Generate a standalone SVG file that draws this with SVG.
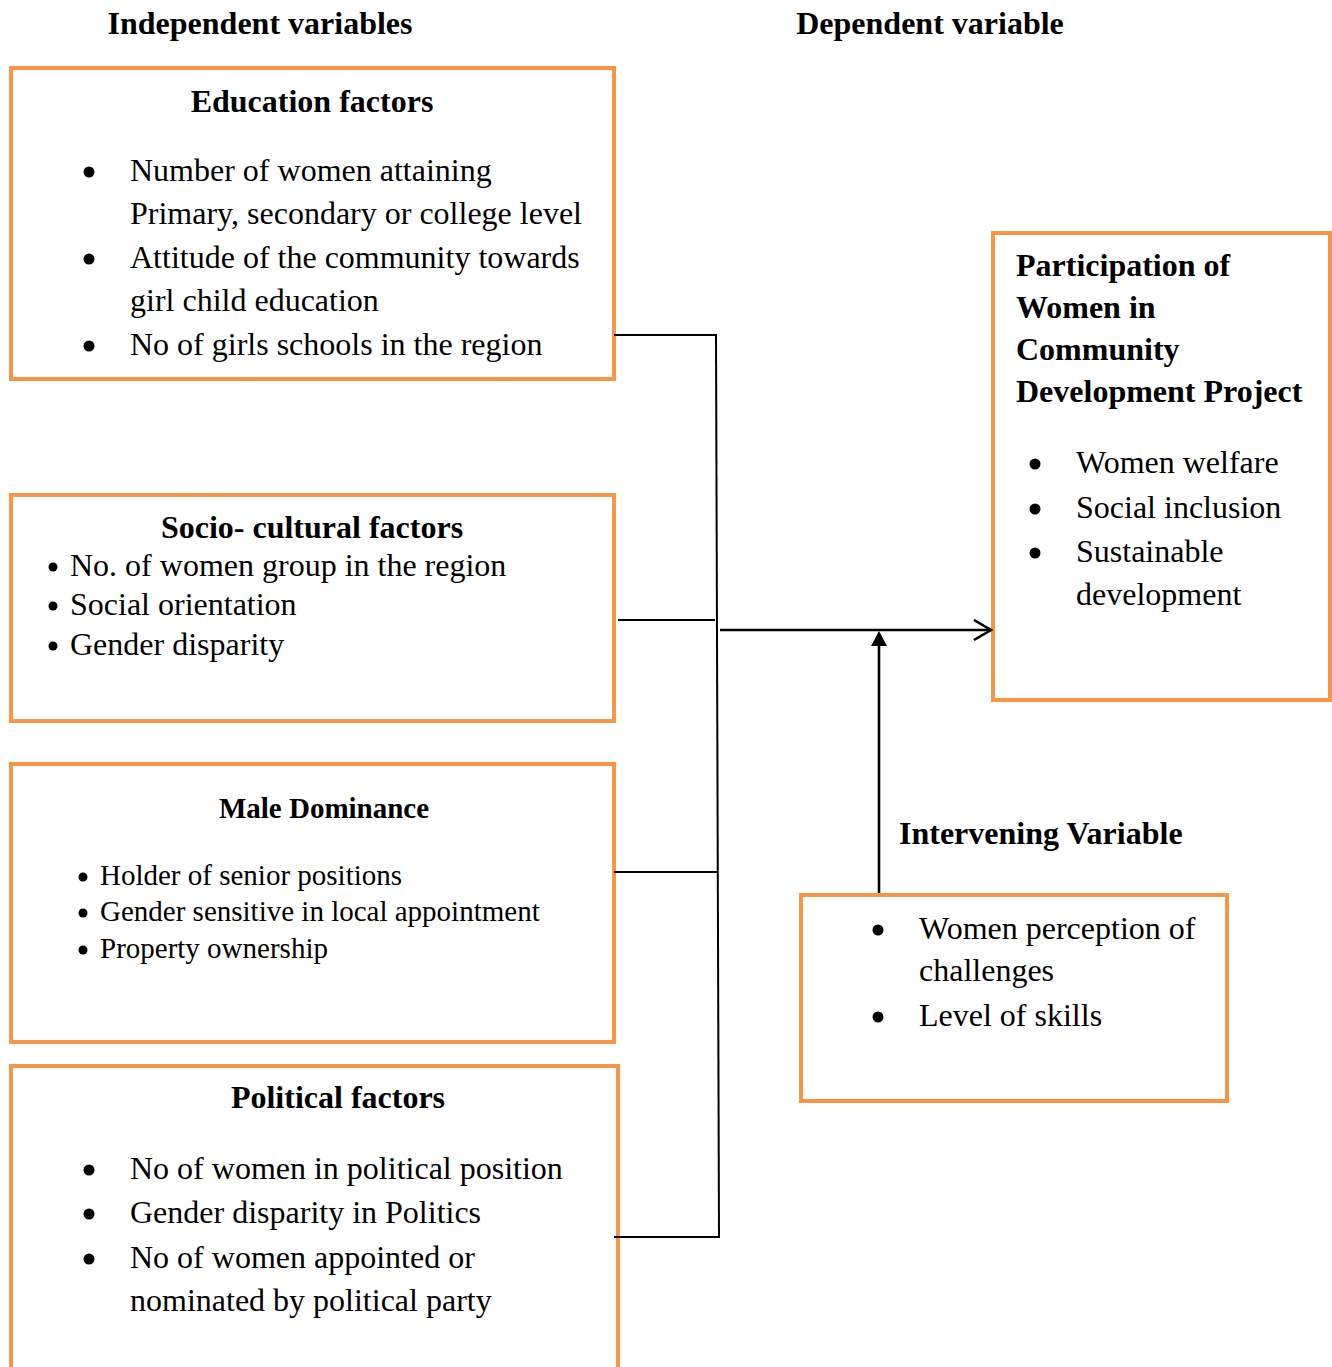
<svg xmlns="http://www.w3.org/2000/svg" width="1332" height="1367" viewBox="0 0 1332 1367">
<style>
text{font-family:"Liberation Serif","Times New Roman",serif;fill:#000}
.h{font-weight:bold;font-size:32px}
.t{font-size:32px}
.s{font-size:29px}
.b{fill:#000}
.box{fill:#fff;stroke:#F79646;stroke-width:4}
.ln{stroke:#000;stroke-width:2;fill:none}
.ar{stroke:#000;stroke-width:2.6;fill:none}
</style>
<defs>
<marker id="open" markerWidth="20" markerHeight="24" refX="18" refY="11" orient="auto" markerUnits="userSpaceOnUse">
<path d="M1,1 L18,11 L1,21" fill="none" stroke="#000" stroke-width="2.6"/>
</marker>
</defs>
<rect width="1332" height="1367" fill="#fff"/>
<text class="h" x="260" y="34" text-anchor="middle">Independent variables</text>
<text class="h" x="930" y="34" text-anchor="middle">Dependent variable</text>

<g id="education">
<rect class="box" x="11" y="68" width="603" height="311"/>
<text class="h" x="312" y="112" text-anchor="middle">Education factors</text>
<circle class="b" cx="89" cy="172" r="5.5"/>
<circle class="b" cx="89" cy="259" r="5.5"/>
<circle class="b" cx="89" cy="346" r="5.5"/>
<g class="t">
<text x="130" y="181">Number of women attaining</text>
<text x="130" y="224">Primary, secondary or college level</text>
<text x="130" y="268">Attitude of the community towards</text>
<text x="130" y="311">girl child education</text>
<text x="130" y="355">No of girls schools in the region</text>
</g>
</g>

<g id="sociocultural">
<rect class="box" x="11" y="495" width="603" height="226"/>
<text class="h" x="312" y="538" text-anchor="middle">Socio- cultural factors</text>
<circle class="b" cx="53" cy="567" r="4.5"/>
<circle class="b" cx="53" cy="606" r="4.5"/>
<circle class="b" cx="53" cy="646" r="4.5"/>
<g class="t">
<text x="70" y="576">No. of women group in the region</text>
<text x="70" y="615">Social orientation</text>
<text x="70" y="655">Gender disparity</text>
</g>
</g>

<g id="male">
<rect class="box" x="11" y="764" width="603" height="278"/>
<text class="h" x="324" y="818" text-anchor="middle" style="font-size:29px">Male Dominance</text>
<circle class="b" cx="83" cy="877" r="4.5"/>
<circle class="b" cx="83" cy="913" r="4.5"/>
<circle class="b" cx="83" cy="950" r="4.5"/>
<g class="s">
<text x="100" y="885">Holder of senior positions</text>
<text x="100" y="921">Gender sensitive in local appointment</text>
<text x="100" y="958">Property ownership</text>
</g>
</g>

<g id="political">
<path class="box" d="M11,1367 L11,1066 L618,1066 L618,1367"/>
<text class="h" x="338" y="1108" text-anchor="middle">Political factors</text>
<circle class="b" cx="89" cy="1170" r="5.5"/>
<circle class="b" cx="89" cy="1214" r="5.5"/>
<circle class="b" cx="89" cy="1259" r="5.5"/>
<g class="t">
<text x="130" y="1179">No of women in political position</text>
<text x="130" y="1223">Gender disparity in Politics</text>
<text x="130" y="1268">No of women appointed or</text>
<text x="130" y="1311">nominated by political party</text>
</g>
</g>

<g id="participation">
<rect class="box" x="993" y="233" width="337" height="467"/>
<g class="h">
<text x="1016" y="276">Participation of</text>
<text x="1016" y="318">Women in</text>
<text x="1016" y="360">Community</text>
<text x="1016" y="402">Development Project</text>
</g>
<circle class="b" cx="1035" cy="464" r="5.5"/>
<circle class="b" cx="1035" cy="509" r="5.5"/>
<circle class="b" cx="1035" cy="553" r="5.5"/>
<g class="t">
<text x="1076" y="473">Women welfare</text>
<text x="1076" y="518">Social inclusion</text>
<text x="1076" y="562">Sustainable</text>
<text x="1076" y="605">development</text>
</g>
</g>

<g id="intervening-label">
<text class="h" x="899" y="844">Intervening Variable</text>
</g>

<g id="intervening">
<rect class="box" x="801" y="895" width="426" height="206"/>
<circle class="b" cx="878" cy="930" r="5.5"/>
<circle class="b" cx="878" cy="1017" r="5.5"/>
<g class="t">
<text x="919" y="939">Women perception of</text>
<text x="919" y="981">challenges</text>
<text x="919" y="1026">Level of skills</text>
</g>
</g>

<g id="connectors">
<path class="ln" d="M614,335 L717,335"/>
<path class="ln" d="M716,335 L719,1237"/>
<path class="ln" d="M618,620 L715,620"/>
<path class="ln" d="M614,872 L717,872"/>
<path class="ln" d="M614,1237 L720,1237"/>
<path class="ar" d="M720,630 L991,630" marker-end="url(#open)"/>
<path class="ar" d="M879,893 L879,644"/>
<path d="M879,631 L887,646 L871,646 Z" fill="#000"/>
</g>
</svg>
